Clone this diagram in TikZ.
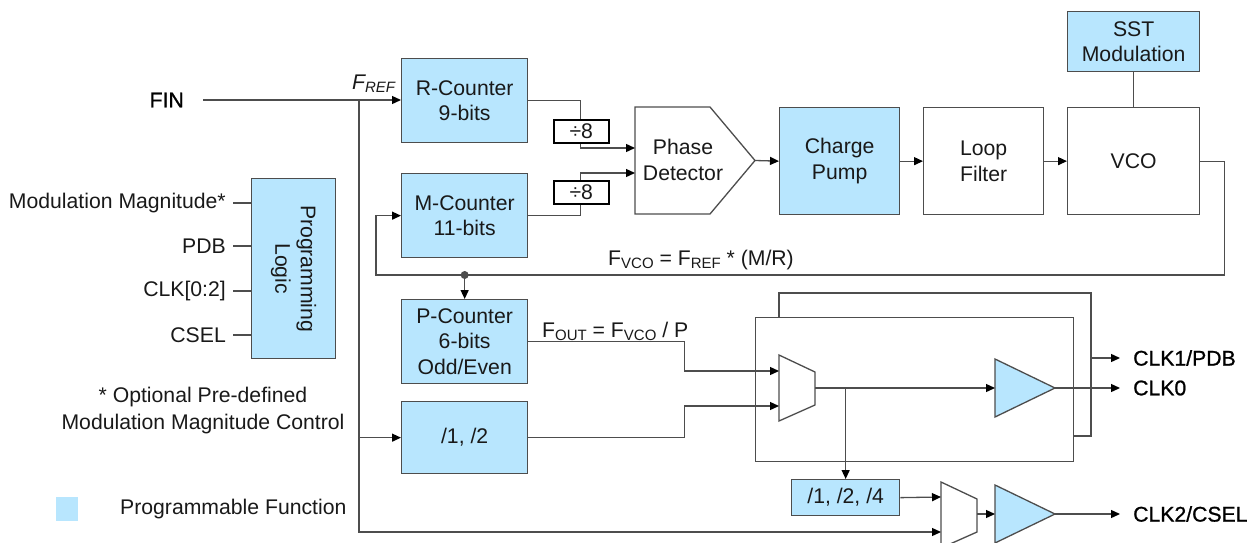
\documentclass[tikz,border=0pt]{standalone}
\usepackage{fontspec}
\setmainfont{Liberation Sans}
\newfontface\pinfont{Liberation Sans}[FakeBold=1]
\usetikzlibrary{arrows.meta}
\definecolor{progblue}{RGB}{184,230,254}
\definecolor{wiregray}{RGB}{77,77,77}
\definecolor{txt}{RGB}{25,25,25}
\newcommand\lowsub[1]{\raisebox{-3pt}{\fontsize{15}{15}\selectfont #1}}
\tikzset{
  wire/.style={draw=wiregray, line width=1.3pt},
  sig/.style={wire, -{Triangle[length=9pt,width=8pt,color=black]}},
  blk/.style={draw=wiregray, line width=1.3pt, align=center, inner sep=0pt,
    anchor=north west, text=txt},
  prog/.style={blk, fill=progblue},
  divbox/.style={draw=black, line width=1.6pt, fill=white, inner sep=0pt,
    anchor=north west, text=txt},
  lbl/.style={inner sep=0pt, text=txt},
  pin/.style={inner sep=0pt, text=black, font=\pinfont\fontsize{21.2}{25.5}\selectfont},
}

\begin{document}
\begin{tikzpicture}[x=1pt,y=-1pt,font=\fontsize{21.2}{25.5}\selectfont] % px grid, y down
  \useasboundingbox (0,0) rectangle (1252,543);
  \def\muxpath{-- ++(36,17) -- ++(0,33) -- ++(-36,16) -- cycle}
  \def\bufpath{-- ++(60,29) -- ++(-60,29) -- cycle}
  % loop blocks
  \node[prog, minimum width=126pt, minimum height=84pt] (rcnt) at (401,58) {R-Counter\\9-bits};
  \node[prog, minimum width=126pt, minimum height=84pt] (mcnt) at (401,173) {M-Counter\\11-bits};
  \node[prog, minimum width=120pt, minimum height=107pt] (cp) at (779,107) {Charge\\Pump};
  \node[blk, minimum width=120pt, minimum height=107pt] (lf) at (923,107) {Loop\\Filter};
  \node[blk, minimum width=132pt, minimum height=107pt] (vco) at (1067,107) {VCO};
  \node[prog, minimum width=132pt, minimum height=60pt] (sst) at (1067,11) {SST\\Modulation};
  \draw[wire, fill=white] (635,107) -- (710,107) -- (755,160.5) -- (710,214) -- (635,214) -- cycle;
  \node[lbl, align=center] (pd) at (683,160) {Phase\\Detector};
  \coordinate (pdin1) at (635,148);
  \coordinate (pdin2) at (635,173);
  \coordinate (pdout) at (755,160.5);
  % input and reference
  \node[pin, anchor=east] (fin) at (184,100) {FIN};
  \coordinate (finstart) at (203,100);
  \coordinate (fref) at (359,100);
  \node[lbl, anchor=base west] (frefl) at (352,89) {\itshape F\lowsub{REF}};
  \draw[sig] (finstart) -- (finstart -| rcnt.west);
  \draw[sig] (rcnt.east) -| (580.5,130) |- (pdin1);
  \draw[sig] (mcnt.east) -| (580.5,191) |- (pdin2);
  \node[divbox, minimum width=55pt, minimum height=23pt] (rdiv) at (553,119) {÷8};
  \node[divbox, minimum width=55pt, minimum height=23pt] (mdiv) at (553,180) {÷8};
  \draw[sig] (pdout) -- (cp.west);
  \draw[sig] (cp.east) -- (lf.west);
  \draw[sig] (lf.east) -- (vco.west);
  \draw[wire] (sst.south) -- (vco.north);
  % feedback
  \coordinate (fbk) at (376,275);
  \draw[sig] (vco.east) -- ++(24,0) |- (fbk) |- (mcnt.west);
  \node[lbl, anchor=base] (fvco) at (701,265) {F\lowsub{VCO} = F\lowsub{REF} * (M/R)};
  % output dividers
  \node[prog, minimum width=126pt, minimum height=84pt] (pcnt) at (401,299) {P-Counter\\6-bits\\Odd/Even};
  \node[prog, minimum width=126pt, minimum height=72pt] (div12) at (401,401) {/1, /2};
  \coordinate (tap) at (pcnt.north |- fbk);
  \fill[wiregray] (tap) circle (4);
  \draw[sig] (tap) -- (pcnt.north);
  \draw[sig] (fref |- div12) -- (div12.west);
  \node[lbl, anchor=base west] (fout) at (542,337) {F\lowsub{OUT} = F\lowsub{VCO} / P};
  % output stage
  \draw[wire] (779,317) -- (779,293) -- (1091,293) -- (1091,436) -- (1073,436);
  \node[blk, fill=white, minimum width=318pt, minimum height=144pt] (outbox) at (755,317) {};
  \draw[wire, fill=white] (779,355) \muxpath;
  \coordinate (mux1in1) at (779,371);
  \coordinate (mux1in2) at (779,406);
  \coordinate (mux1out) at (815,388);
  \draw[wire, fill=progblue] (995,359) \bufpath;
  \coordinate (buf1in) at (995,388);
  \coordinate (buf1out) at (1055,388);
  \draw[sig] (pcnt.east) -- ++(156,0) |- (mux1in1);
  \draw[sig] (div12.east) -- ++(156,0) |- (mux1in2);
  \draw[sig] (mux1out) -- (buf1in);
  \node[prog, minimum width=108pt, minimum height=36pt] (div124) at (791,479) {/1, /2, /4};
  \draw[sig] (mux1out -| div124) -- (div124.north);
  \draw[wire, fill=white] (941,482) \muxpath;
  \coordinate (mux2in1) at (941,497);
  \coordinate (mux2in2) at (941,532);
  \coordinate (mux2out) at (977,514);
  \draw[wire, fill=progblue] (995,485) \bufpath;
  \coordinate (buf2in) at (995,514);
  \coordinate (buf2out) at (1055,514);
  \draw[sig] (div124.east) -- (mux2in1);
  \draw[sig] (mux2out) -- (buf2in);
  \draw[sig] (fref) |- (mux2in2);
  \node[pin, anchor=west] (clk1) at (1133,358) {CLK1/PDB};
  \node[pin, anchor=west] (clk0) at (1133,388) {CLK0};
  \node[pin, anchor=west] (clk2) at (1133,514) {CLK2/CSEL};
  \draw[sig, shorten >=13pt] (1091,358) -- (clk1.west);
  \draw[sig, shorten >=13pt] (buf1out) -- (clk0.west);
  \draw[sig, shorten >=13pt] (buf2out) -- (clk2.west);
  % programming logic
  \node[prog, minimum width=84pt, minimum height=180pt] (plog) at (251,178) {};
  \node[lbl, rotate=-90, align=center] (plogtxt) at (plog.center) {Programming\\Logic};
  \foreach \yy/\txt/\nm in {203/Modulation Magnitude*/mm, 246/PDB/pdb, 291/{CLK[0:2]}/clk, 335/CSEL/csel}{
    \node[lbl, anchor=east] (\nm) at (226,\yy) {\txt};
    \draw[wire] ([xshift=7pt]\nm.east) -- (plog.west |- \nm);
  }
  \node[lbl, align=center, font=\fontsize{21.2}{27}\selectfont] (note) at (203,411)
    {* Optional Pre-defined\\Modulation Magnitude Control};
  % legend
  \node[fill=progblue, minimum width=22pt, minimum height=24pt, inner sep=0pt, anchor=north west] (legsq) at (56,497) {};
  \node[lbl, anchor=west] (legtxt) at (120,509) {Programmable Function};
\end{tikzpicture}
\end{document}
